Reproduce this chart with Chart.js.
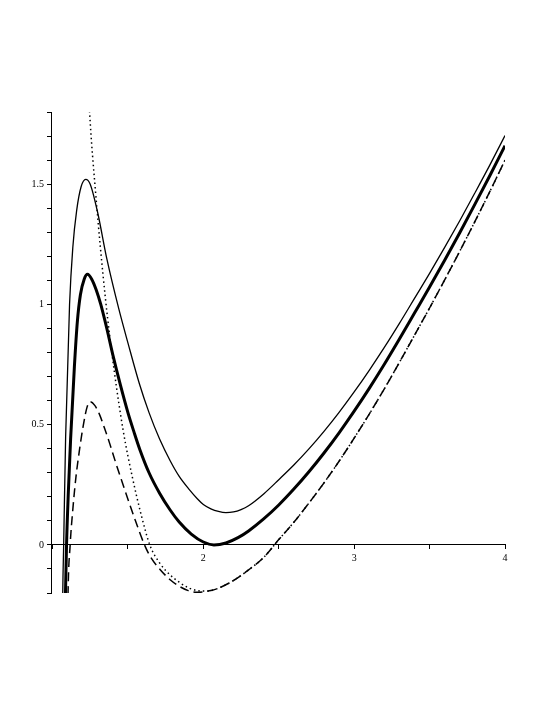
<!DOCTYPE html>
<html>
<head>
<meta charset="utf-8">
<script src="https://cdn.jsdelivr.net/npm/chart.js@4.4.0/dist/chart.umd.min.js"></script>
<style>
  html, body { margin: 0; padding: 0; background: #ffffff; }
  #wrap { width: 545px; height: 705px; }
</style>
</head>
<body>
<div id="wrap"><canvas id="curveChart"></canvas></div>
<script>
// Thick solid curve
const thickX = [1.075, 1.086, 1.093, 1.105, 1.12, 1.145, 1.165, 1.185, 1.21, 1.232, 1.26, 1.29, 1.32, 1.36, 1.40, 1.45, 1.50, 1.54, 1.58, 1.64, 1.71, 1.78, 1.84, 1.92, 2.0, 2.07, 2.15, 2.23, 2.3, 2.4, 2.5, 2.6, 2.7, 2.8, 2.9, 3.0, 3.1, 3.2, 3.3, 3.4, 3.5, 3.6, 3.7, 3.8, 3.9, 4.0];
const thickY = [-0.5, -0.2, 0.0, 0.22, 0.44, 0.74, 0.93, 1.04, 1.105, 1.125, 1.105, 1.06, 1.00, 0.90, 0.79, 0.665, 0.55, 0.47, 0.395, 0.30, 0.215, 0.145, 0.095, 0.045, 0.012, 0.0, 0.008, 0.03, 0.058, 0.108, 0.166, 0.232, 0.304, 0.382, 0.466, 0.556, 0.651, 0.751, 0.856, 0.964, 1.072, 1.184, 1.298, 1.416, 1.536, 1.66];

// Thin solid curve
const thinX = [1.064, 1.068, 1.074, 1.087, 1.113, 1.135, 1.16, 1.19, 1.22, 1.25, 1.30, 1.36, 1.44, 1.50, 1.576, 1.64, 1.71, 1.78, 1.84, 1.91, 1.96, 2.0, 2.05, 2.1, 2.15, 2.2, 2.25, 2.3, 2.4, 2.5, 2.6, 2.7, 2.8, 2.9, 3.0, 3.1, 3.2, 3.3, 3.4, 3.5, 3.6, 3.7, 3.8, 3.9, 4.0];
const thinY = [-0.5, -0.2, 0.0, 0.45, 1.0, 1.24, 1.39, 1.49, 1.52, 1.50, 1.38, 1.19, 0.98, 0.84, 0.67, 0.55, 0.44, 0.35, 0.285, 0.228, 0.192, 0.168, 0.15, 0.139, 0.134, 0.137, 0.147, 0.163, 0.212, 0.271, 0.332, 0.399, 0.472, 0.551, 0.636, 0.726, 0.821, 0.921, 1.025, 1.129, 1.237, 1.348, 1.463, 1.58, 1.702];

// Dashed curve
const dashX = [1.097, 1.103, 1.117, 1.135, 1.155, 1.18, 1.205, 1.23, 1.25, 1.28, 1.31, 1.345, 1.38, 1.42, 1.46, 1.50, 1.55, 1.61, 1.65, 1.71, 1.78, 1.84, 1.90, 1.96, 2.0, 2.05, 2.1, 2.2, 2.3, 2.4, 2.5, 2.6, 2.7, 2.8, 2.9, 3.0, 3.1, 3.2, 3.3, 3.4, 3.5, 3.6, 3.7, 3.8, 3.9, 4.0];
const dashY = [-0.5, -0.2, 0.0, 0.15, 0.28, 0.40, 0.50, 0.575, 0.595, 0.58, 0.545, 0.485, 0.42, 0.34, 0.265, 0.19, 0.10, 0.0, -0.05, -0.10, -0.145, -0.172, -0.19, -0.197, -0.195, -0.19, -0.18, -0.148, -0.104, -0.052, 0.022, 0.094, 0.174, 0.258, 0.348, 0.444, 0.544, 0.649, 0.759, 0.872, 0.985, 1.102, 1.221, 1.344, 1.47, 1.60];

// Dotted curve
const dotX = [1.24, 1.245, 1.285, 1.35, 1.41, 1.47, 1.53, 1.59, 1.645, 1.71, 1.78, 1.84, 1.90, 1.96, 2.0, 2.05, 2.1, 2.2, 2.3, 2.4, 2.5, 2.6, 2.7, 2.8, 2.9, 3.0, 3.1, 3.2, 3.3, 3.4, 3.5, 3.6, 3.7, 3.8, 3.9, 4.0];
const dotY = [1.88, 1.81, 1.47, 1.03, 0.72, 0.47, 0.28, 0.12, 0.0, -0.075, -0.125, -0.155, -0.178, -0.19, -0.192, -0.19, -0.18, -0.148, -0.104, -0.052, 0.022, 0.094, 0.174, 0.258, 0.348, 0.444, 0.544, 0.649, 0.759, 0.872, 0.985, 1.102, 1.221, 1.344, 1.47, 1.60];

// Axis ticks
const xTicks = [1, 1.5, 2, 2.5, 3, 3.5, 4];
const xLabelled = [2, 3, 4];
const yTicks = [-0.2, -0.1, 0, 0.1, 0.2, 0.3, 0.4, 0.5, 0.6, 0.7, 0.8, 0.9, 1, 1.1, 1.2, 1.3, 1.4, 1.5, 1.6, 1.7, 1.8];
const yLabelled = [0, 0.5, 1, 1.5];

function toPoints(xs, ys) {
  return xs.map((x, i) => ({ x: x, y: ys[i] }));
}

function lineSet(xs, ys, width, dash) {
  return {
    data: toPoints(xs, ys),
    showLine: true,
    borderColor: "#000000",
    backgroundColor: "#000000",
    borderWidth: width,
    borderDash: dash,
    pointRadius: 0,
    fill: false,
    cubicInterpolationMode: "monotone",
  };
}

const tickFont = { family: "'Liberation Serif', 'DejaVu Serif', serif", size: 10 };

const ctx = document.getElementById("curveChart");
new Chart(ctx, {
  type: "scatter",
  data: {
    datasets: [
      lineSet(dotX, dotY, 1.5, [1.5, 3]),
      lineSet(dashX, dashY, 1.5, [9, 5]),
      lineSet(thinX, thinY, 1.3, []),
      lineSet(thickX, thickY, 3, []),
    ],
  },
  options: {
    responsive: true,
    maintainAspectRatio: false,
    animation: false,
    layout: {
      padding: { top: 112, bottom: 112, left: 0, right: 40 },
    },
    plugins: {
      legend: { display: false },
      tooltip: { enabled: false },
    },
    scales: {
      x: {
        type: "linear",
        min: 0.99,
        max: 4,
        position: { y: 0 },
        afterFit: (scale) => { scale.height = 0; },
        afterBuildTicks: (scale) => { scale.ticks = xTicks.map((v) => ({ value: v })); },
        border: { display: true, color: "#000000", width: 1 },
        grid: { drawOnChartArea: false, drawTicks: true, tickLength: 4, color: "#000000" },
        ticks: {
          autoSkip: false,
          maxRotation: 0,
          color: "#000000",
          font: tickFont,
          padding: 3,
          callback: (v) => (xLabelled.includes(v) ? String(v) : ""),
        },
      },
      y: {
        type: "linear",
        min: -0.2,
        max: 1.8,
        position: "left",
        afterFit: (scale) => { scale.width = 51; },
        afterBuildTicks: (scale) => { scale.ticks = yTicks.map((v) => ({ value: v })); },
        border: { display: true, color: "#000000", width: 1 },
        grid: { drawOnChartArea: false, drawTicks: true, tickLength: 4, color: "#000000" },
        ticks: {
          autoSkip: false,
          color: "#000000",
          font: tickFont,
          padding: 3,
          callback: (v) => (yLabelled.some((l) => Math.abs(l - v) < 1e-6) ? String(v) : ""),
        },
      },
    },
  },
});
</script>
</body>
</html>
